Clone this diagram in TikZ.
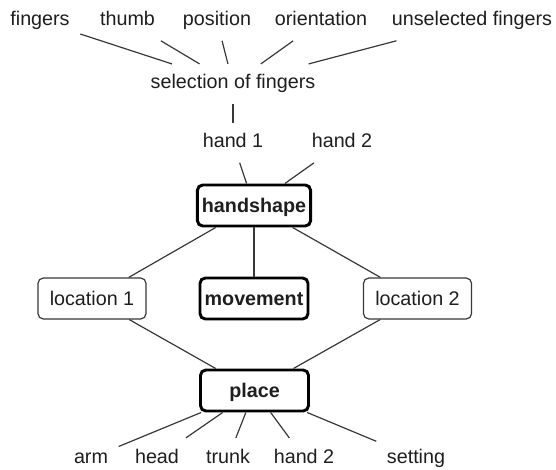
\documentclass[tikz,border=0pt]{standalone}
\usepackage{fontspec}
\setmainfont{Liberation Sans}
\definecolor{ink}{HTML}{1E1E1E}
\definecolor{wire}{HTML}{383838}
\begin{document}
\begin{tikzpicture}
[
    x=0.75pt, y=-0.75pt,
    every node/.style={text=ink, font=\fontsize{14.8pt}{17pt}\selectfont},
    term/.style={inner sep=0pt, outer sep=8pt, text height=10.8pt, text depth=3.1pt, anchor=base},
    feature/.style={draw=wire, line width=0.9pt, rounded corners=4pt, minimum width=81pt, minimum height=30.75pt, inner xsep=3.4pt, text height=11pt, text depth=1.2pt},
    major/.style={feature, draw=black, line width=2.2pt, font=\fontsize{14.8pt}{17pt}\selectfont\bfseries},
    link/.style={draw=wire, line width=0.9pt},
]
    \useasboundingbox (0,0) rectangle (556,470);

    % finger features
    \node[term] (fingers) at (40,26) {fingers};
    \node[term] (thumb) at (127.5,26) {thumb};
    \node[term] (position) at (217,26) {position};
    \node[term] (orient) at (321,26) {orientation};
    \node[term] (unsel) at (472,26) {unselected fingers};
    \node[term] (sel) at (233,89) {selection of fingers};
    \node[term] (hand1) at (233,148) {hand 1};
    \node[term] (hand2) at (342,148) {hand 2};

    % main units
    \node[major] (handshape) at (254,205.5) {handshape};
    \node[feature] (loc1) at (92,298.5) {location 1};
    \node[major] (movement) at (254,298.5) {movement};
    \node[feature] (loc2) at (417.5,298.5) {location 2};
    \node[major] (place) at (254.5,390.5) {place};

    % places
    \node[term] (arm) at (91,463) {arm};
    \node[term] (head) at (157,463) {head};
    \node[term] (trunk) at (228,463) {trunk};
    \node[term] (hand2b) at (304,463) {hand 2};
    \node[term] (setting) at (416,463) {setting};

    \draw[link] (fingers) -- (sel);
    \draw[link] (thumb) -- (sel);
    \draw[link] (position) -- (sel);
    \draw[link] (orient) -- (sel);
    \draw[link] (unsel) -- (sel);
    \draw[link] (sel) -- (hand1);
    \draw[link] (hand1) -- (handshape);
    \draw[link] (hand2) -- (handshape);

    \draw[link] (handshape) -- (loc1);
    \draw[link] (handshape) -- (movement);
    \draw[link] (handshape) -- (loc2);
    \draw[link] (loc1) -- (place);
    \draw[link] (loc2) -- (place);

    \draw[link] (place) -- (arm);
    \draw[link] (place) -- (head);
    \draw[link] (place) -- (trunk);
    \draw[link] (place) -- (hand2b);
    \draw[link] (place) -- (setting);
\end{tikzpicture}
\end{document}
